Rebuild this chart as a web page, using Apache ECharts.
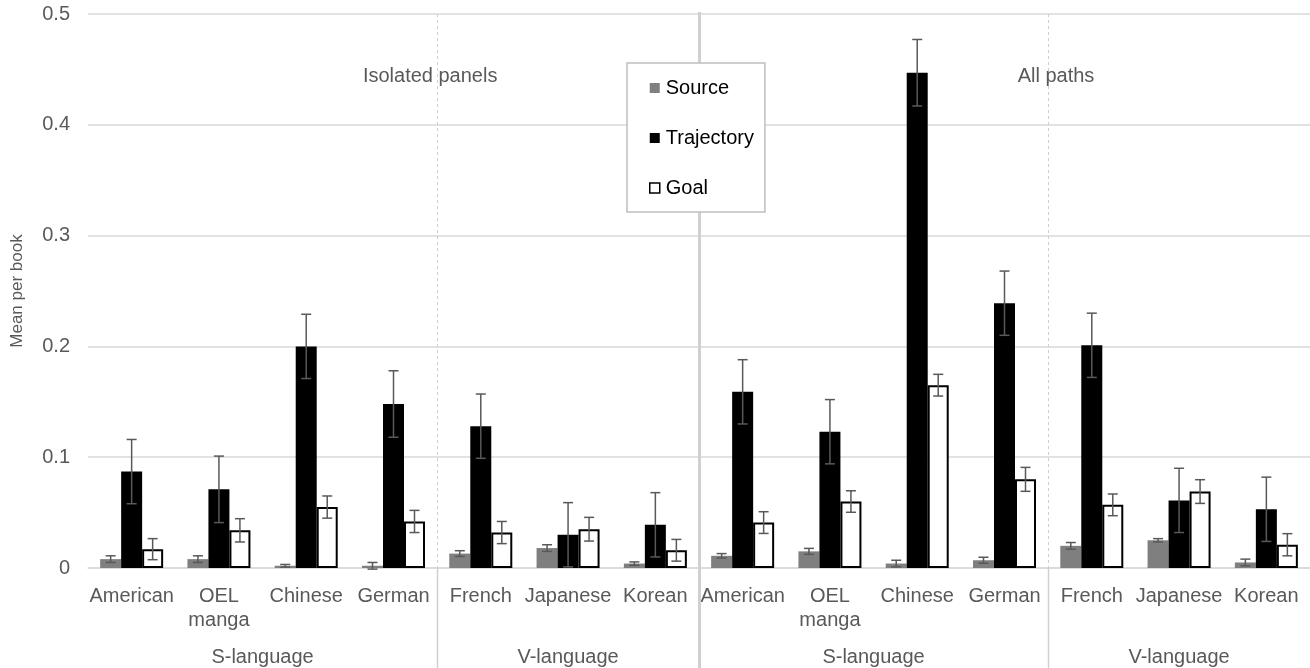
<!DOCTYPE html>
<html>
<head>
<meta charset="utf-8">
<script src="https://cdn.jsdelivr.net/npm/echarts@6/dist/echarts.min.js"></script>
<style>
  html, body { margin: 0; padding: 0; background: #fff; }
  #chart { width: 1310px; height: 668px; }
</style>
</head>
<body>
<div id="chart"></div>
<script>
// Categories: two panels (Isolated panels / All paths), each S-language then V-language
const categories = [
  'American', 'OEL\nmanga', 'Chinese', 'German', 'French', 'Japanese', 'Korean',
  'American', 'OEL\nmanga', 'Chinese', 'German', 'French', 'Japanese', 'Korean'
];
const groupLabels = ['S-language', 'V-language', 'S-language', 'V-language'];
const groupSpans = [4, 3, 4, 3];
const panelLabels = ['Isolated panels', 'All paths'];
const seriesNames = ['Source', 'Trajectory', 'Goal'];

// Means per book and their error margins
const sourceMean = [0.008, 0.008, 0.002, 0.002, 0.013, 0.018, 0.004,
                    0.011, 0.015, 0.004, 0.007, 0.020, 0.025, 0.005];
const sourceErr  = [0.003, 0.003, 0.0012, 0.003, 0.0026, 0.003, 0.0015,
                    0.002, 0.0027, 0.003, 0.0027, 0.003, 0.0015, 0.003];
const trajMean   = [0.087, 0.071, 0.200, 0.148, 0.128, 0.030, 0.039,
                    0.159, 0.123, 0.447, 0.239, 0.201, 0.061, 0.053];
const trajErr    = [0.029, 0.030, 0.029, 0.030, 0.029, 0.029, 0.029,
                    0.029, 0.029, 0.030, 0.029, 0.029, 0.029, 0.029];
const goalMean   = [0.017, 0.034, 0.055, 0.042, 0.032, 0.035, 0.016,
                    0.041, 0.060, 0.165, 0.080, 0.057, 0.069, 0.021];
const goalErr    = [0.0095, 0.0105, 0.010, 0.010, 0.010, 0.0107, 0.0098,
                    0.0098, 0.0097, 0.0098, 0.0108, 0.0098, 0.0107, 0.010];

const FONT = '"Liberation Sans", Arial, Helvetica, sans-serif';
const TEXT_GRAY = '#595959';
const GRID_GRAY = '#d9d9d9';
const BAR_W = 21;
const LABEL_SIZE = 20;

const chart = echarts.init(document.getElementById('chart'), null, { renderer: 'canvas' });

// Error bars drawn through the category/value scales, shifted to the slot of each bar
function errorSeries(name, means, errs, slot) {
  return {
    type: 'custom',
    name: name + ' error',
    xAxisIndex: 0,
    yAxisIndex: 0,
    silent: true,
    z: 5,
    clip: false,
    data: means.map((m, i) => [i, m - errs[i], m + errs[i]]),
    renderItem(params, api) {
      const idx = api.value(0);
      const lo = api.coord([idx, api.value(1)]);
      const hi = api.coord([idx, api.value(2)]);
      const x = lo[0] + slot * BAR_W;
      const cap = 5;
      const style = { stroke: '#595959', lineWidth: 1.5 };
      return {
        type: 'group',
        children: [
          { type: 'line', shape: { x1: x, y1: lo[1], x2: x, y2: hi[1] }, style },
          { type: 'line', shape: { x1: x - cap, y1: hi[1], x2: x + cap, y2: hi[1] }, style },
          { type: 'line', shape: { x1: x - cap, y1: lo[1], x2: x + cap, y2: lo[1] }, style }
        ]
      };
    }
  };
}

// Group boundaries and centres on the hidden 0..N value axis
const boundaries = [];
const groupCenters = [];
let acc = 0;
groupSpans.forEach((s, i) => {
  groupCenters.push([acc + s / 2, i]);
  acc += s;
  if (i < groupSpans.length - 1) boundaries.push([acc, i === 1 ? 1 : 0]);
});

const option = {
  backgroundColor: '#fff',
  animation: false,
  textStyle: { fontFamily: FONT },
  grid: { left: 88, right: 0, top: 14, bottom: 100, containLabel: false },
  legend: {
    data: seriesNames.map((n) => ({
      name: n,
      icon: 'rect',
      itemStyle: n === 'Goal'
        ? { color: '#fff', borderColor: '#000', borderWidth: 1.5 }
        : undefined
    })),
    orient: 'vertical',
    left: 627,
    top: 63,
    itemWidth: 10,
    itemHeight: 10,
    itemGap: 26,
    padding: [13, 11, 12, 22],
    backgroundColor: '#fff',
    borderColor: '#bfbfbf',
    borderWidth: 1.5,
    borderRadius: 0,
    z: 10,
    selectedMode: false,
    textStyle: { fontFamily: FONT, fontSize: LABEL_SIZE, color: '#000', lineHeight: 24, padding: [0, 0, 0, 1] }
  },
  xAxis: [
    {
      type: 'category',
      data: categories,
      axisTick: { show: false },
      axisLine: { lineStyle: { color: GRID_GRAY, width: 1.5 } },
      axisLabel: {
        interval: 0,
        margin: 16,
        color: TEXT_GRAY,
        fontFamily: FONT,
        fontSize: LABEL_SIZE,
        lineHeight: 24
      },
      splitLine: { show: false }
    },
    { type: 'value', min: 0, max: categories.length, show: false }
  ],
  yAxis: {
    type: 'value',
    min: 0,
    max: 0.5,
    interval: 0.1,
    name: 'Mean per book',
    nameLocation: 'middle',
    nameGap: 62,
    nameRotate: 90,
    nameTextStyle: { color: TEXT_GRAY, fontFamily: FONT, fontSize: 17 },
    axisLine: { show: false },
    axisTick: { show: false },
    axisLabel: { color: TEXT_GRAY, fontFamily: FONT, fontSize: LABEL_SIZE, margin: 18 },
    splitLine: { lineStyle: { color: GRID_GRAY, width: 1.5 } }
  },
  series: [
    // Panel and group separators
    {
      type: 'custom',
      name: 'separators',
      xAxisIndex: 1,
      yAxisIndex: 0,
      silent: true,
      clip: false,
      z: 1,
      data: boundaries,
      renderItem(params, api) {
        const top = api.coord([api.value(0), 0.5]);
        const base = api.coord([api.value(0), 0]);
        const bottom = api.getHeight();
        const x = Math.round(top[0]) + 0.5;
        if (api.value(1) === 1) {
          return {
            type: 'line',
            shape: { x1: x, y1: top[1] - 2, x2: x, y2: bottom },
            style: { stroke: '#d0d0d0', lineWidth: 3 }
          };
        }
        return {
          type: 'group',
          children: [
            { type: 'line', shape: { x1: x, y1: top[1], x2: x, y2: base[1] },
              style: { stroke: '#cfcfcf', lineWidth: 1, lineDash: [3, 3] } },
            { type: 'line', shape: { x1: x, y1: base[1], x2: x, y2: bottom },
              style: { stroke: '#d0d0d0', lineWidth: 1.5 } }
          ]
        };
      }
    },
    // Language group labels under the categories
    {
      type: 'custom',
      name: 'groups',
      xAxisIndex: 1,
      yAxisIndex: 0,
      silent: true,
      clip: false,
      data: groupCenters,
      renderItem(params, api) {
        const p = api.coord([api.value(0), 0]);
        return {
          type: 'text',
          x: p[0],
          y: p[1] + 89,
          style: {
            text: groupLabels[api.value(1)],
            fill: TEXT_GRAY,
            font: LABEL_SIZE + 'px ' + FONT,
            align: 'center',
            verticalAlign: 'middle'
          }
        };
      }
    },
    // Panel titles
    {
      type: 'custom',
      name: 'panels',
      xAxisIndex: 1,
      yAxisIndex: 0,
      silent: true,
      clip: false,
      data: [[3.92, 0.4435, 0], [11.09, 0.4435, 1]],
      renderItem(params, api) {
        const p = api.coord([api.value(0), api.value(1)]);
        return {
          type: 'text',
          x: p[0],
          y: p[1],
          style: {
            text: panelLabels[api.value(2)],
            fill: TEXT_GRAY,
            font: LABEL_SIZE + 'px ' + FONT,
            align: 'center',
            verticalAlign: 'middle'
          }
        };
      }
    },
    {
      type: 'bar',
      name: 'Source',
      data: sourceMean,
      barWidth: BAR_W,
      barGap: '0%',
      itemStyle: { color: '#7f7f7f' },
      z: 3
    },
    {
      type: 'bar',
      name: 'Trajectory',
      data: trajMean,
      barWidth: BAR_W,
      barGap: '0%',
      itemStyle: { color: '#000' },
      z: 3
    },
    {
      type: 'bar',
      name: 'Goal',
      data: goalMean,
      barWidth: BAR_W,
      barGap: '0%',
      itemStyle: { color: '#fff', borderColor: '#000', borderWidth: 2 },
      z: 3
    },
    errorSeries('Source', sourceMean, sourceErr, -1),
    errorSeries('Trajectory', trajMean, trajErr, 0),
    errorSeries('Goal', goalMean, goalErr, 1)
  ]
};

chart.setOption(option);
</script>
</body>
</html>
